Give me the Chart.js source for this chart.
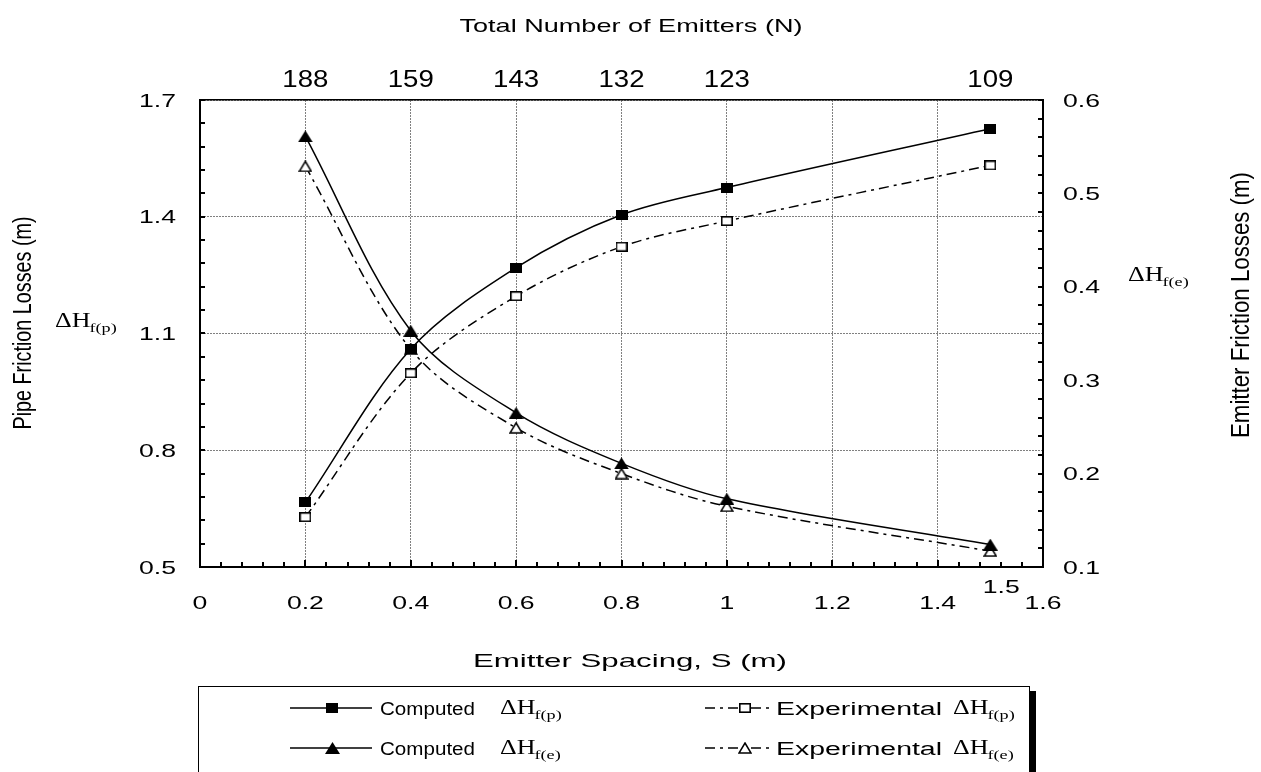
<!DOCTYPE html>
<html>
<head>
<meta charset="utf-8">
<script src="https://cdn.jsdelivr.net/npm/chart.js@4"></script>
<style>
  html, body { margin: 0; padding: 0; background: #fff; }
  #wrap { position: relative; width: 1261px; height: 772px; overflow: hidden; }
  #plot { position: absolute; left: 0; top: 0; }
</style>
</head>
<body>
<div id="wrap"><canvas id="plot" width="1261" height="772"></canvas></div>
<script>
// emitter spacing S (m) and total number of emitters N at each spacing
const spacing = [0.2, 0.4, 0.6, 0.8, 1.0, 1.5];
const emitterCount = [188, 159, 143, 132, 123, 109];

// pipe friction losses (left axis, m)
const computedPipe = [0.666, 1.06, 1.269, 1.405, 1.475, 1.626];
const experimentalPipe = [0.628, 0.998, 1.196, 1.323, 1.389, 1.532];

// emitter friction losses (right axis, m)
const computedEmitter = [0.561, 0.353, 0.265, 0.211, 0.173, 0.124];
const experimentalEmitter = [0.529, 0.333, 0.249, 0.200, 0.165, 0.117];

// axis ticks
const spacingTicks = [0, 0.2, 0.4, 0.6, 0.8, 1.0, 1.2, 1.4, 1.6];
const pipeTicks = [0.5, 0.8, 1.1, 1.4, 1.7];
const emitterTicks = [0.1, 0.2, 0.3, 0.4, 0.5, 0.6];

const SANS = '"Liberation Sans", Arial, sans-serif';
const SERIF = '"Liberation Serif", "Times New Roman", serif';
const STRETCH = 1.4;

function marker(w, h, paint) {
  const c = document.createElement('canvas');
  c.width = w; c.height = h;
  paint(c.getContext('2d'), w, h);
  return c;
}
const squareFilled = marker(12, 10, (g, w, h) => { g.fillStyle = '#000'; g.fillRect(0, 0, w, h); });
const squareOpen = marker(12, 10, (g, w, h) => {
  g.fillStyle = '#fff'; g.fillRect(0, 0, w, h);
  g.strokeStyle = '#000'; g.lineWidth = 1.6; g.strokeRect(0.8, 0.8, w - 1.6, h - 1.6);
});
function triPath(g, w, h, m) {
  g.beginPath(); g.moveTo(w / 2, m); g.lineTo(w - m, h - m); g.lineTo(m, h - m); g.closePath();
}
const triFilled = marker(15, 12, (g, w, h) => { triPath(g, w, h, 0); g.fillStyle = '#000'; g.fill(); });
const triOpen = marker(14, 12, (g, w, h) => {
  triPath(g, w, h, 1); g.fillStyle = '#fff'; g.fill();
  g.strokeStyle = '#000'; g.lineWidth = 1.5; g.lineJoin = 'miter'; g.stroke();
});

const DASH_DOT = [10, 5, 3, 5];
const pts = ys => spacing.map((s, i) => ({ x: s, y: ys[i] }));

function series(label, ys, axis, style, dash) {
  return {
    label, data: pts(ys), yAxisID: axis, xAxisID: 'x',
    borderColor: '#000', backgroundColor: '#000', borderWidth: 1.5,
    borderDash: dash || [], tension: 0.33, fill: false,
    pointStyle: style, pointRadius: 5, pointHoverRadius: 5
  };
}

// text helpers: the lettering is drawn wide, like the printed figure
function wideText(ctx, text, x, y, font, sx, align) {
  ctx.save();
  ctx.font = font;
  ctx.textAlign = align || 'center';
  ctx.textBaseline = 'alphabetic';
  ctx.fillStyle = '#000';
  ctx.translate(x, y);
  ctx.scale(sx, 1);
  ctx.fillText(text, 0, 0);
  ctx.restore();
}
function fitText(ctx, text, x, y, font, width, align) {
  ctx.save(); ctx.font = font;
  const w = ctx.measureText(text).width;
  ctx.restore();
  wideText(ctx, text, x, y, font, width / w, align);
}
function uprightText(ctx, text, cx, cy, font, length) {
  ctx.save();
  ctx.font = font;
  const w = ctx.measureText(text).width;
  ctx.fillStyle = '#000';
  ctx.textAlign = 'center';
  ctx.textBaseline = 'middle';
  ctx.translate(cx, cy);
  ctx.scale(STRETCH, 1);
  ctx.rotate(-Math.PI / 2);
  ctx.scale(length / w, 1);
  ctx.fillText(text, 0, 0);
  ctx.restore();
}
function deltaH(ctx, x, y, sub) {
  const font = '20px ' + SERIF;
  ctx.save(); ctx.font = font;
  const w = ctx.measureText('\u0394H').width * 1.3;
  ctx.restore();
  wideText(ctx, '\u0394H', x, y, font, 1.3, 'left');
  wideText(ctx, sub, x + w - 1, y + 5, '13px ' + SERIF, 1.4, 'left');
}

const fmt = v => String(Math.round(v * 100) / 100);

const decor = {
  id: 'decor',
  afterDraw(chart) {
    const ctx = chart.ctx;
    const { x, x2, y, y2 } = chart.scales;
    const area = chart.chartArea;
    const labelFont = '19px ' + SANS;

    // inward minor ticks
    ctx.save();
    ctx.strokeStyle = '#000';
    ctx.lineWidth = 2;
    ctx.beginPath();
    for (let k = 0; k <= 40; k++) {
      const px = Math.round(x.getPixelForValue(k * 0.04));
      const len = k % 5 === 0 ? 7 : 5;
      ctx.moveTo(px, area.bottom); ctx.lineTo(px, area.bottom - len);
    }
    for (let k = 0; k <= 20; k++) {
      const py = Math.round(y.getPixelForValue(0.5 + k * 0.06));
      ctx.moveTo(area.left, py); ctx.lineTo(area.left + 5, py);
    }
    for (let k = 0; k <= 25; k++) {
      const py = Math.round(y2.getPixelForValue(0.1 + k * 0.02));
      ctx.moveTo(area.right, py); ctx.lineTo(area.right - 5, py);
    }
    ctx.stroke();
    ctx.restore();

    // tick labels
    x.ticks.forEach(t => {
      wideText(ctx, fmt(t.value), x.getPixelForValue(t.value), 608.5, labelFont, STRETCH, 'center');
    });
    wideText(ctx, '1.5', x.getPixelForValue(1.5) + 11, 593, labelFont, STRETCH, 'center');
    x2.ticks.forEach((t, i) => {
      wideText(ctx, String(emitterCount[i]), x2.getPixelForValue(t.value), 87, '23px ' + SANS, 1.2, 'center');
    });
    y.ticks.forEach(t => {
      wideText(ctx, t.value.toFixed(1), area.left - 24, y.getPixelForValue(t.value) + 6.5, labelFont, STRETCH, 'right');
    });
    y2.ticks.forEach(t => {
      wideText(ctx, t.value.toFixed(1), area.right + 20, y2.getPixelForValue(t.value) + 6.5, labelFont, STRETCH, 'left');
    });

    // axis titles
    fitText(ctx, 'Total Number of Emitters (N)', 631, 31.5, '19px ' + SANS, 343, 'center');
    fitText(ctx, 'Emitter Spacing, S (m)', 630, 666.5, '19px ' + SANS, 314, 'center');
    uprightText(ctx, 'Pipe Friction Losses (m)', 24, 323, '19px ' + SANS, 213);
    uprightText(ctx, 'Emitter Friction Losses (m)', 1242, 305, '19px ' + SANS, 266);
    deltaH(ctx, 55, 327, 'f(p)');
    deltaH(ctx, 1128, 281, 'f(e)');

    // legend box with shadow
    ctx.save();
    ctx.fillStyle = '#000';
    ctx.fillRect(1029, 691, 7, 90);
    ctx.strokeStyle = '#000';
    ctx.lineWidth = 1;
    ctx.strokeRect(198.5, 686.5, 831, 100);
    ctx.restore();

    const rows = [708, 748];
    const cols = [
      { x0: 290, x1: 372, mx: 332, name: 'Computed', tx: 380, tw: 95, dx: 500 },
      { x0: 705, x1: 770, mx: 745, name: 'Experimental', tx: 776, tw: 166, dx: 953 }
    ];
    const subs = ['f(p)', 'f(p)', 'f(e)', 'f(e)'];
    chart.data.datasets.forEach((ds, i) => {
      const c = cols[i % 2];
      const ry = rows[Math.floor(i / 2)];
      ctx.save();
      ctx.strokeStyle = '#000';
      ctx.lineWidth = 1.5;
      ctx.setLineDash(ds.borderDash);
      ctx.beginPath(); ctx.moveTo(c.x0, ry); ctx.lineTo(c.x1, ry); ctx.stroke();
      ctx.restore();
      const m = ds.pointStyle;
      ctx.drawImage(m, Math.round(c.mx - m.width / 2), Math.round(ry - m.height / 2));
      fitText(ctx, c.name, c.tx, ry + 7, '18px ' + SANS, c.tw, 'left');
      deltaH(ctx, c.dx, ry + 6, subs[i]);
    });
  }
};

new Chart(document.getElementById('plot'), {
  type: 'line',
  data: {
    datasets: [
      series('Computed \u0394Hf(p)', computedPipe, 'y', squareFilled),
      series('Experimental \u0394Hf(p)', experimentalPipe, 'y', squareOpen, DASH_DOT),
      series('Computed \u0394Hf(e)', computedEmitter, 'y2', triFilled),
      series('Experimental \u0394Hf(e)', experimentalEmitter, 'y2', triOpen, DASH_DOT)
    ]
  },
  options: {
    responsive: false,
    animation: false,
    layout: { padding: 0 },
    plugins: { legend: { display: false }, title: { display: false }, tooltip: { enabled: false } },
    scales: {
      x: {
        type: 'linear', position: 'bottom', min: 0, max: 1.6,
        afterBuildTicks: s => { s.ticks = spacingTicks.map(v => ({ value: v })); },
        afterFit: s => { s.height = 205; },
        ticks: { display: false },
        grid: { color: '#808080', lineWidth: 1, drawTicks: false },
        border: { color: '#000', width: 2, dash: [2, 1] }
      },
      x2: {
        type: 'linear', position: 'top', min: 0, max: 1.6,
        afterBuildTicks: s => { s.ticks = spacing.map(v => ({ value: v })); },
        afterFit: s => { s.height = 100; },
        ticks: { display: false },
        grid: { drawOnChartArea: false, drawTicks: false },
        border: { color: '#000', width: 1.5 }
      },
      y: {
        type: 'linear', position: 'left', min: 0.5, max: 1.7,
        afterBuildTicks: s => { s.ticks = pipeTicks.map(v => ({ value: v })); },
        afterFit: s => { s.width = 200; },
        ticks: { display: false },
        grid: { color: '#808080', lineWidth: 1, drawTicks: false },
        border: { color: '#000', width: 2, dash: [2, 1] }
      },
      y2: {
        type: 'linear', position: 'right', min: 0.1, max: 0.6,
        afterBuildTicks: s => { s.ticks = emitterTicks.map(v => ({ value: v })); },
        afterFit: s => { s.width = 218; },
        ticks: { display: false },
        grid: { drawOnChartArea: false, drawTicks: false },
        border: { color: '#000', width: 2 }
      }
    }
  },
  plugins: [decor]
});
</script>
</body>
</html>
